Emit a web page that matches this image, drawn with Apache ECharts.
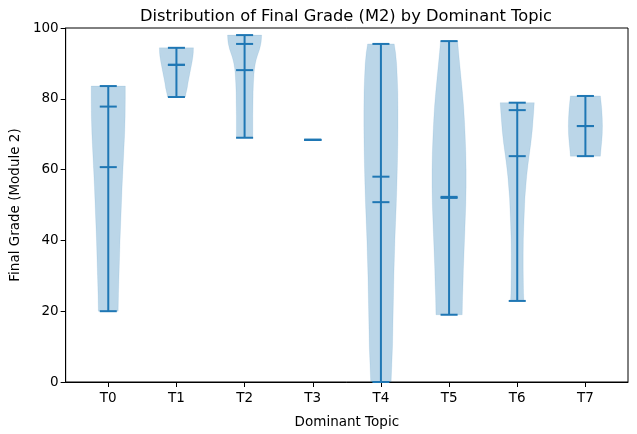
<!DOCTYPE html>
<html>
<head>
<meta charset="utf-8">
<script src="https://cdn.jsdelivr.net/npm/echarts@6/dist/echarts.min.js"></script>
<style>html,body{margin:0;padding:0;background:#fff}#c{width:637px;height:434px}</style>
</head>
<body>
<div id="c"></div>
<script>
// ---- data ----
var categories = ['T0','T1','T2','T3','T4','T5','T6','T7'];
var mins    = [20.0, 80.5, 69.0, 68.4, 0.0, 19.0, 22.9, 63.8];
var maxs    = [83.6, 94.4, 98.0, 68.4, 95.5, 96.3, 78.9, 80.8];
var means   = [60.7, 89.6, 88.1, 68.4, 50.8, 52.0, 63.8, 72.3];
var medians = [77.8, 89.6, 95.5, 68.4, 58.0, 52.3, 76.8, 72.3];
var yTicks  = [0, 20, 40, 60, 80, 100];
// relative violin widths [grade, width 0..1] per topic (estimated KDE shape)
var densT0 = [[83.6,1.0],[80,1.0],[75,0.99],[70,0.96],[65,0.91],[60,0.86],[55,0.81],[50,0.77],[45,0.73],[40,0.69],[35,0.66],[30,0.63],[25,0.6],[20,0.58]];
var densT1 = [[94.4,1.0],[93,0.99],[92,0.97],[90.5,0.92],[89,0.86],[87.5,0.8],[86,0.74],[84.5,0.68],[83,0.63],[81.5,0.56],[80.5,0.52]];
var densT2 = [[98,1.0],[97,0.99],[96,0.97],[95,0.93],[94,0.88],[93,0.81],[92,0.74],[91,0.68],[90,0.63],[88.5,0.58],[87,0.55],[84.5,0.52],[82,0.5],[78,0.49],[75,0.48],[72,0.48],[69,0.48]];
var densT3 = [];
var densT4 = [[95.5,0.78],[93,0.86],[90,0.92],[86,0.96],[82,0.99],[77,1.0],[72,1.0],[67,0.99],[62,0.97],[56,0.94],[50,0.9],[45,0.86],[40,0.82],[35,0.79],[30,0.76],[25,0.74],[20,0.72],[15,0.7],[10,0.68],[5,0.64],[0,0.6]];
var densT5 = [[96.3,0.5],[93,0.56],[90,0.62],[86,0.7],[82,0.78],[78,0.85],[74,0.9],[70,0.94],[65,0.98],[60,1.0],[55,1.0],[50,0.98],[46,0.95],[42,0.92],[37,0.88],[32,0.84],[28,0.82],[24,0.79],[19,0.77]];
var densT6 = [[78.9,1.0],[77.5,0.98],[76,0.96],[73.5,0.92],[71,0.88],[67.5,0.8],[64,0.7],[61,0.62],[58,0.55],[55,0.5],[52,0.45],[48.5,0.42],[45,0.39],[40.5,0.36],[36,0.35],[32,0.35],[28,0.36],[25,0.37],[22.9,0.39]];
var densT7 = [[80.8,0.88],[79,0.92],[77,0.96],[74.5,0.99],[72.3,1.0],[70,0.99],[68,0.96],[66,0.92],[63.8,0.88]];
var densities = [densT0,densT1,densT2,densT3,densT4,densT5,densT6,densT7];

var BLUE = '#1f77b4';
var FONT = 'DejaVu Sans';

var chart = echarts.init(document.getElementById('c'), null, {renderer:'canvas'});

var items = categories.map(function(c,i){ return [i, mins[i], maxs[i], means[i], medians[i]]; });

function renderViolin(params, api){
  var i = api.value(0);
  var dens = densities[i];
  var halfW = api.size([0.25, 0])[0];
  var capHalf = api.size([0.125, 0])[0];
  var cx = api.coord([i, 0])[0];
  var children = [];
  if (dens.length > 1) {
    var right = [], left = [];
    dens.forEach(function(d){
      var y = api.coord([i, d[0]])[1];
      right.push([cx + d[1]*halfW, y]);
      left.push([cx - d[1]*halfW, y]);
    });
    var pts = right.concat(left.reverse());
    children.push({type:'polygon', shape:{points:pts},
      style:{fill:'rgba(31,119,180,0.3)', stroke:'rgba(31,119,180,0.1)', lineWidth:1}});
  }
  var yMin = api.coord([i, api.value(1)])[1];
  var yMax = api.coord([i, api.value(2)])[1];
  children.push({type:'line', shape:{x1:cx, y1:yMin, x2:cx, y2:yMax}, style:{stroke:BLUE, lineWidth:2}});
  [1,2,3,4].forEach(function(k){
    var y = api.coord([i, api.value(k)])[1];
    children.push({type:'line', shape:{x1:cx-capHalf, y1:y, x2:cx+capHalf, y2:y}, style:{stroke:BLUE, lineWidth:2}});
  });
  return {type:'group', children:children};
}

chart.setOption({
  animation:false,
  backgroundColor:'#fff',
  title:{text:'Distribution of Final Grade (M2) by Dominant Topic', left:341, top:4, textAlign:'center',
    textStyle:{fontFamily:FONT, fontSize:16.3, fontWeight:'normal', color:'#000'}},
  grid:{left:64, right:9, top:28, bottom:52, show:true, borderColor:'#000', borderWidth:1, backgroundColor:'transparent'},
  xAxis:{type:'value', min:-0.625, max:7.625,
    name:'Dominant Topic', nameLocation:'middle', nameGap:33,
    nameTextStyle:{fontFamily:FONT, fontSize:13.5, color:'#000'},
    axisLine:{show:true, onZero:false, lineStyle:{color:'#000', width:1}},
    axisTick:{show:true, inside:false, length:5, lineStyle:{color:'#000'}, customValues:[0,1,2,3,4,5,6,7]},
    axisLabel:{show:true, customValues:[0,1,2,3,4,5,6,7], margin:9, fontFamily:FONT, fontSize:13.5, color:'#000',
      formatter:function(v){ return categories[Math.round(v)]; }},
    splitLine:{show:false}},
  yAxis:{type:'value', min:0, max:100, interval:20,
    name:'Final Grade (Module 2)', nameLocation:'middle', nameGap:43,
    nameTextStyle:{fontFamily:FONT, fontSize:13.5, color:'#000'},
    axisLine:{show:true, onZero:false, lineStyle:{color:'#000', width:1}},
    axisTick:{show:true, inside:false, length:5, lineStyle:{color:'#000'}},
    axisLabel:{margin:7, fontFamily:FONT, fontSize:13.5, color:'#000',
      formatter:function(v){ return yTicks.indexOf(v) >= 0 ? String(v) : ''; }},
    splitLine:{show:false}},
  series:[{type:'custom', renderItem:renderViolin, data:items, clip:false,
    encode:{x:0, y:[1,2]}}]
});
</script>
</body>
</html>
